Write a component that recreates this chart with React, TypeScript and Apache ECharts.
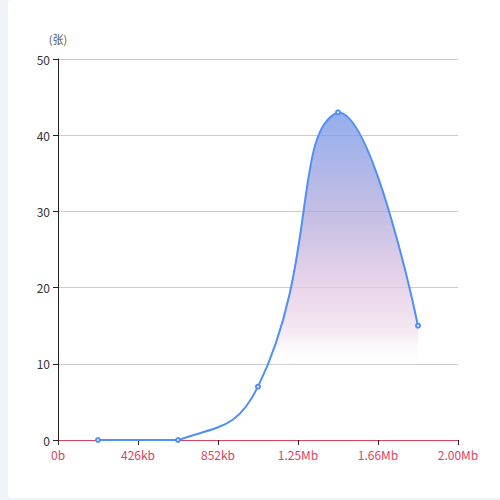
import React, { useEffect, useRef } from 'react';
import * as echarts from 'echarts';

// x-axis tick labels (size bins)
const sizeLabels = ['0b', '426kb', '852kb', '1.25Mb', '1.66Mb', '2.00Mb'];
// bin centres on the axis (in bin units)
const binCenters = [0.5, 1.5, 2.5, 3.5, 4.5];
// count per bin (张)
const counts = [0, 0, 7, 43, 15];

const FONT = "'Noto Sans CJK SC', 'Noto Sans', sans-serif";
const LINE_COLOR = '#4f8ff7';
const SMOOTH = 0.5;

// smoothed bezier through pixel points, control points kept inside the points' bbox
function smoothPath(pts: number[][]): string {
  const xs = pts.map(p => p[0]);
  const ys = pts.map(p => p[1]);
  const minX = Math.min(...xs), maxX = Math.max(...xs);
  const minY = Math.min(...ys), maxY = Math.max(...ys);
  const clamp = (p: number[]) => [
    Math.min(maxX, Math.max(minX, p[0])),
    Math.min(maxY, Math.max(minY, p[1])),
  ];
  const dist = (a: number[], b: number[]) => Math.hypot(a[0] - b[0], a[1] - b[1]);

  let d = `M${pts[0][0]},${pts[0][1]}`;
  let cp0 = pts[0].slice();
  for (let i = 1; i < pts.length; i++) {
    const p = pts[i];
    const prev = pts[i - 1];
    const next = pts[i + 1];
    let cp1: number[];
    let v = [0, 0];
    let ratio = 0.5;
    if (!next) {
      cp1 = p.slice();
    } else {
      v = [next[0] - prev[0], next[1] - prev[1]];
      const d0 = dist(p, prev);
      const d1 = dist(p, next);
      ratio = d1 / (d0 + d1);
      cp1 = [p[0] - v[0] * SMOOTH * (1 - ratio), p[1] - v[1] * SMOOTH * (1 - ratio)];
    }
    const a = clamp(cp0);
    const b = clamp(cp1);
    d += ` C${a[0]},${a[1]} ${b[0]},${b[1]} ${p[0]},${p[1]}`;
    cp0 = [p[0] + v[0] * SMOOTH * ratio, p[1] + v[1] * SMOOTH * ratio];
  }
  return d;
}

const App: React.FC = () => {
  const chartRef = useRef<HTMLDivElement>(null);

  useEffect(() => {
    if (!chartRef.current) return;
    const chart = echarts.init(chartRef.current, undefined, { renderer: 'svg' });

    const areaGradient = new echarts.graphic.LinearGradient(0, 0, 0, 1, [
      { offset: 0, color: 'rgba(112, 148, 232, 0.75)' },
      { offset: 0.3, color: 'rgba(176, 168, 219, 0.75)' },
      { offset: 0.54, color: 'rgba(227, 200, 227, 0.75)' },
      { offset: 0.67, color: 'rgba(241, 225, 238, 0.75)' },
      { offset: 0.78, color: 'rgba(255, 255, 255, 0)' },
      { offset: 1, color: 'rgba(255, 255, 255, 0)' },
    ]);

    const option: echarts.EChartsOption = {
      animation: false,
      textStyle: { fontFamily: FONT },
      grid: { left: 58, right: 42, top: 59, bottom: 60 },
      xAxis: {
        type: 'value',
        min: 0,
        max: 5,
        interval: 1,
        splitLine: { show: false },
        axisLine: { lineStyle: { color: '#d9435e' } },
        axisTick: { show: true, lineStyle: { color: '#222' } },
        axisLabel: {
          color: '#d9435e',
          fontSize: 12,
          fontFamily: FONT,
          formatter: (v: number) => sizeLabels[Math.round(v)] ?? '',
        },
      },
      yAxis: {
        type: 'value',
        name: '(张)',
        nameTextStyle: { color: '#555', fontSize: 11, fontFamily: FONT },
        min: 0,
        max: 50,
        interval: 10,
        axisLine: { show: true, lineStyle: { color: '#222' } },
        axisTick: { show: true, lineStyle: { color: '#222' } },
        axisLabel: { color: '#333', fontSize: 12, fontFamily: FONT },
        splitLine: { lineStyle: { color: '#cccccc' } },
      },
      series: [
        {
          // smoothed curve + gradient area
          type: 'custom',
          data: [[binCenters[0], counts[0]]],
          silent: true,
          z: 2,
          renderItem: (_params: any, api: any) => {
            const pts = counts.map((c, i) => api.coord([binCenters[i], c]));
            const base = api.coord([0, 0])[1];
            const line = smoothPath(pts);
            const last = pts[pts.length - 1];
            const area = `${line} L${last[0]},${base} L${pts[0][0]},${base} Z`;
            return {
              type: 'group',
              children: [
                { type: 'path', shape: { pathData: area }, style: { fill: areaGradient, stroke: 'none' } },
                {
                  type: 'path',
                  shape: { pathData: line },
                  style: { fill: 'none', stroke: LINE_COLOR, lineWidth: 2 },
                },
              ],
            };
          },
        },
        {
          // point markers
          type: 'line',
          z: 3,
          data: counts.map((c, i) => [binCenters[i], c]),
          symbol: 'emptyCircle',
          symbolSize: 4,
          itemStyle: { color: LINE_COLOR, borderWidth: 1 },
          lineStyle: { width: 0, opacity: 0 },
        },
      ],
    };

    chart.setOption(option);
    return () => {
      chart.dispose();
    };
  }, []);

  return (
    <div style={{ position: 'fixed', left: 0, top: 0, width: 500, height: 500, background: '#f2f3f8' }}>
      <div
        style={{
          position: 'absolute',
          left: 8,
          top: 0,
          width: 500,
          height: 498,
          background: '#fff',
          borderRadius: 4,
        }}
      />
      <div ref={chartRef} style={{ position: 'absolute', left: 0, top: 0, width: 500, height: 500 }} />
    </div>
  );
};

export default App;
